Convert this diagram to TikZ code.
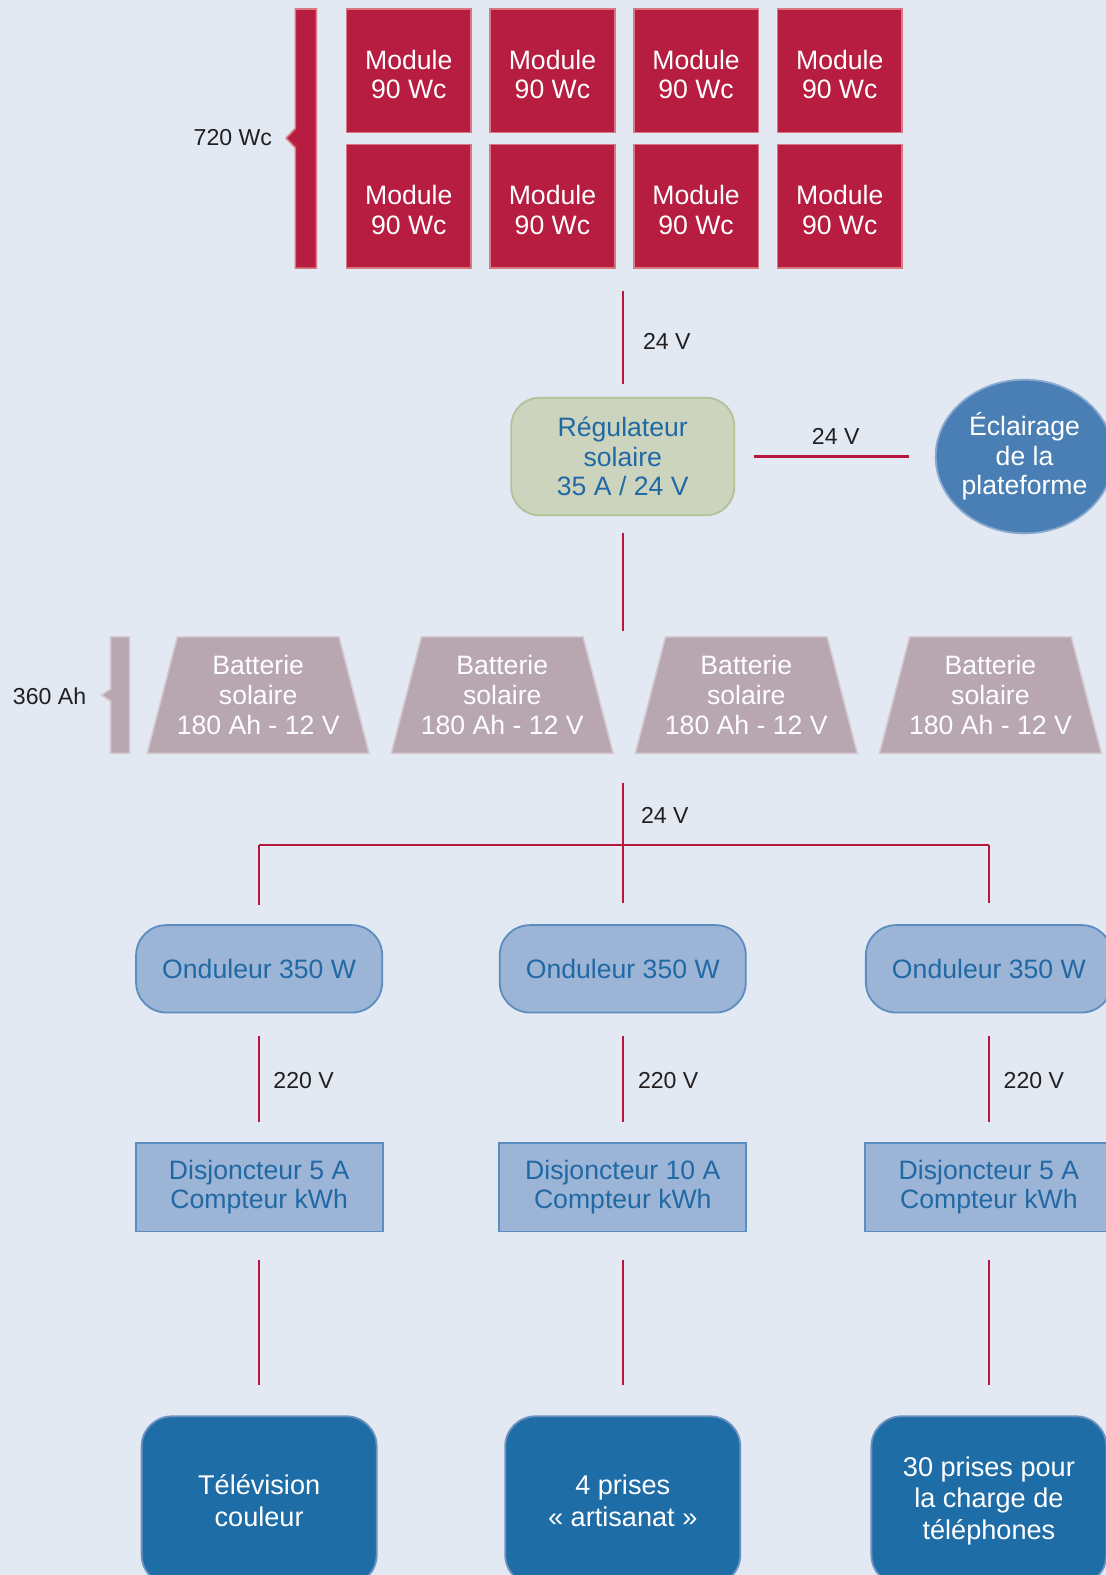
\documentclass[tikz,border=0pt]{standalone}
\usepackage{fontspec}
\setmainfont{Liberation Sans}
\usetikzlibrary{shapes.geometric}
\definecolor{bg}{HTML}{E2E9F3}
\definecolor{modRed}{HTML}{B71D40}
\definecolor{modBorder}{HTML}{D9787E}
\definecolor{wireRed}{HTML}{B5173F}
\definecolor{regFill}{HTML}{CDD4BD}
\definecolor{regBorder}{HTML}{B3C196}
\definecolor{eclFill}{HTML}{4A7FB5}
\definecolor{eclBorder}{HTML}{8AA9CF}
\definecolor{batFill}{HTML}{B8A6B1}
\definecolor{batBorder}{HTML}{D6CAD0}
\definecolor{ondFill}{HTML}{9CB4D6}
\definecolor{ondBorder}{HTML}{5B8DC1}
\definecolor{txtBlue}{HTML}{2069A5}
\definecolor{botFill}{HTML}{1F6DA6}
\definecolor{botBorder}{HTML}{6E92BF}
\definecolor{lblBlack}{HTML}{231F20}
\newcommand\boxfont{\fontsize{26.5}{29.5}\selectfont}
\newcommand\botfont{\fontsize{27}{31.5}\selectfont}
\newcommand\lblfont{\fontsize{23}{26}\selectfont}
\begin{document}
\begin{tikzpicture}[x=1pt,y=-1pt,
  module/.style={draw=modBorder, fill=modRed, line width=1.6, minimum width=124, minimum height=123, text=white, align=center, font=\boxfont, inner sep=0},
  modtext/.style={text=white, align=center, font=\boxfont, inner sep=0},
  regbox/.style={draw=regBorder, fill=regFill, line width=1.8, rounded corners=28, minimum width=222, minimum height=117, text=txtBlue, align=center, font=\boxfont, inner sep=0},
  eclbox/.style={ellipse, draw=eclBorder, fill=eclFill, line width=1.8, minimum width=176, minimum height=153, text=white, align=center, font=\boxfont, inner sep=0},
  battext/.style={text=white, align=center, font=\boxfont, inner sep=0},
  batshape/.style={draw=batBorder, fill=batFill, line width=1.6},
  ondbox/.style={draw=ondBorder, fill=ondFill, line width=1.8, rounded corners=30, minimum width=245, minimum height=87, text=txtBlue, align=center, font=\boxfont, inner sep=0},
  disjbox/.style={draw=ondBorder, fill=ondFill, line width=1.8, minimum width=246, minimum height=88, text=txtBlue, align=center, font=\boxfont, inner sep=0},
  botbox/.style={draw=botBorder, fill=botFill, line width=1.8, rounded corners=30, minimum width=234, minimum height=168, text=white, align=center, font=\botfont, inner sep=0},
  wire/.style={draw=wireRed, line width=2.3},
  lbl/.style={font=\lblfont, text=lblBlack, inner sep=0},
]
\useasboundingbox (0,0) rectangle (1101,1568);
\clip (0,0) rectangle (1101,1568);
\fill[bg] (0,0) rectangle (1101,1568);

% bracket bars
\draw[modBorder, fill=modRed, line width=1.6] (315,9) -- (294,9) -- (294,128) -- (285,137.5) -- (294,147) -- (294,267) -- (315,267) -- cycle;
\node[lbl, anchor=east] (lbl720) at (271,137) {720 Wc};
\draw[batBorder, fill=batFill, line width=1.6] (129,634) -- (110,634) -- (110,686) -- (101,692) -- (110,698) -- (110,750) -- (129,750) -- cycle;
\node[lbl, anchor=east] (lbl360) at (86,693) {360 Ah};

% modules
\foreach \i/\x in {1/407,2/550,3/693,4/836}{
  \node[module] (mA\i) at (\x,70.5) {};
  \node[modtext] (tA\i) at (\x,74) {Module\\90 Wc};
  \node[module] (mB\i) at (\x,205.5) {};
  \node[modtext] (tB\i) at (\x,209) {Module\\90 Wc};
}

% regulator and lighting
\node[regbox] (reg) at (620,454.5) {Régulateur\\solaire\\35 A / 24 V};
\node[eclbox] (ecl) at (1020,454.5) {Éclairage\\de la\\plateforme};

% batteries
\foreach \i/\x in {1/257,2/500,3/743,4/986}{
  \draw[batshape] (\x-110.5,750) -- (\x-80.5,634) -- (\x+80.5,634) -- (\x+110.5,750) -- cycle;
  \node[battext] (bat\i) at (\x,692) {Batterie\\solaire\\180 Ah - 12 V};
}

% inverters, breakers, loads
\node[ondbox] (o1) at (258,964.5) {Onduleur 350 W};
\node[ondbox] (o2) at (620,964.5) {Onduleur 350 W};
\node[ondbox] (o3) at (984.5,964.5) {Onduleur 350 W};
\node[disjbox] (d1) at (258,1182) {Disjoncteur 5 A\\Compteur kWh};
\node[disjbox] (d2) at (620,1182) {Disjoncteur 10 A\\Compteur kWh};
\node[disjbox] (d3) at (984.5,1182) {Disjoncteur 5 A\\Compteur kWh};
\node[botbox] (b1) at (258,1494) {Télévision\\couleur};
\node[botbox] (b2) at (620,1494) {4 prises\\«~artisanat~»};
\node[botbox] (b3) at (984.5,1494) {30 prises pour\\la charge de\\téléphones};

% connectors
\coordinate (gridbot) at (620,290);
\draw[wire, shorten >=13] (gridbot) -- (reg.north);
\node[lbl, anchor=west] (v1) at (640,340) {24 V};
\draw[wire, shorten <=19, shorten >=26] (reg.east) -- (ecl.west);
\node[lbl] (v2) at (832,434) {24 V};
\coordinate (battop) at (620,628);
\draw[wire, shorten <=17] (reg.south) -- (battop);
\coordinate (busTop) at (620,780);
\coordinate (busL) at (258,841);
\coordinate (busR) at (984.5,841);
\draw[wire, shorten >=21] (busTop) -- (o2.north);
\node[lbl, anchor=west] (v3) at (638,812) {24 V};
\draw[wire] (busL) -- (busR);
\draw[wire, shorten >=19] (busL) -- (o1.north);
\draw[wire, shorten >=21] (busR) -- (o3.north);
\foreach \i/\x in {1/272,2/635,3/999}{
  \draw[wire, shorten <=22, shorten >=20] (o\i.south) -- (d\i.north);
  \node[lbl, anchor=west] (w\i) at (\x,1076) {220 V};
  \draw[wire, shorten <=27, shorten >=30] (d\i.south) -- (b\i.north);
}
\end{tikzpicture}
\end{document}
